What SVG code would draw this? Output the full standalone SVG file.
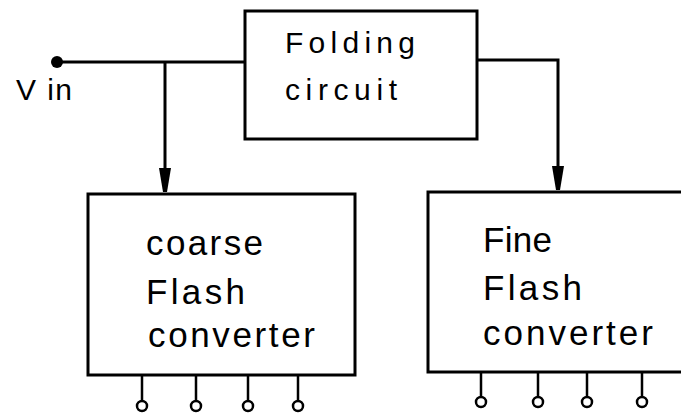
<svg xmlns="http://www.w3.org/2000/svg" width="681" height="413" viewBox="0 0 681 413">
<style>
.box{fill:#fff;stroke:#000;stroke-width:3}
.wire{fill:none;stroke:#000;stroke-width:3}
.pin{fill:none;stroke:#000;stroke-width:2.5}
.t{font-family:"Liberation Sans",Arial,sans-serif;fill:#000}
.big{font-size:35px}
.mid{font-size:30px}
.arr{fill:#000}
</style>
<g id="connectors">
<circle cx="57" cy="62" r="6" fill="#000"/>
<path class="wire" d="M57 62 H245"/>
<path class="wire" d="M165 62 V180"/>
<path class="arr" d="M159 168 L171 168 L167 192 L163 192 Z"/>
<path class="wire" d="M477 60 H558 V180"/>
<path class="arr" d="M552 166 L564 166 L560 190 L556 190 Z"/>
</g>
<g id="vin">
<text class="t mid" x="16" y="100" textLength="56" lengthAdjust="spacing">V in</text>
</g>
<g id="folding">
<rect class="box" x="245" y="11" width="232" height="128"/>
<text class="t mid" x="285" y="53" textLength="130" lengthAdjust="spacing">Folding</text>
<text class="t mid" x="285" y="100" textLength="112" lengthAdjust="spacing">circuit</text>
</g>
<g id="coarse">
<rect class="box" x="88" y="194" width="267" height="181"/>
<text class="t big" x="146" y="255" textLength="117" lengthAdjust="spacing">coarse</text>
<text class="t big" x="146" y="304" textLength="99" lengthAdjust="spacing">Flash</text>
<text class="t big" x="148" y="347" textLength="167" lengthAdjust="spacing">converter</text>
<g class="pin">
<path d="M142 376 V401 M196 376 V401 M248 376 V401 M298 376 V401"/>
<circle cx="142" cy="406" r="5"/>
<circle cx="196" cy="406" r="5"/>
<circle cx="248" cy="406" r="5"/>
<circle cx="298" cy="406" r="5"/>
</g>
</g>
<g id="fine">
<rect class="box" x="428" y="192" width="270" height="180"/>
<text class="t big" x="483" y="252" textLength="69" lengthAdjust="spacing">Fine</text>
<text class="t big" x="483" y="300" textLength="99" lengthAdjust="spacing">Flash</text>
<text class="t big" x="483" y="345" textLength="170" lengthAdjust="spacing">converter</text>
<g class="pin">
<path d="M481 373 V397 M538 373 V397 M587 373 V397 M642 373 V397"/>
<circle cx="481" cy="402" r="5"/>
<circle cx="538" cy="402" r="5"/>
<circle cx="587" cy="402" r="5"/>
<circle cx="642" cy="402" r="5"/>
</g>
</g>
</svg>
